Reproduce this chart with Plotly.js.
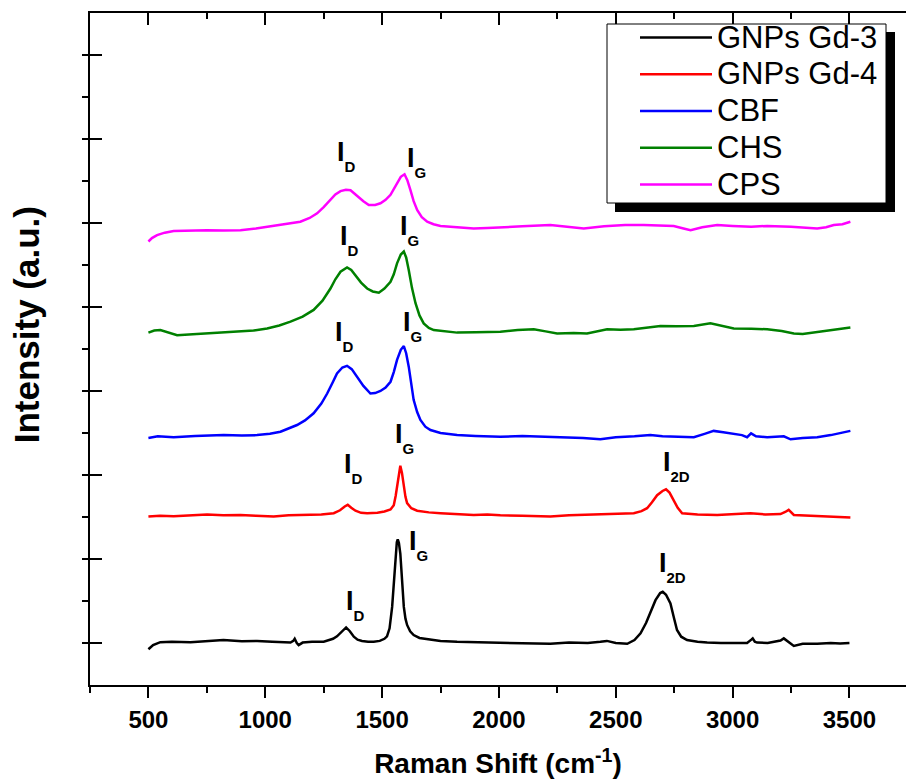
<!DOCTYPE html>
<html>
<head>
<meta charset="utf-8">
<script src="https://cdn.plot.ly/plotly-3.0.1.min.js"></script>
<style>html,body{margin:0;padding:0;background:#fff;overflow:hidden}#chart{width:906px;height:782px}</style>
</head>
<body>
<div id="chart"></div>
<script>
// ---- data (Raman shift in cm^-1, intensity in arbitrary offset units) ----
var seriesNames = ["GNPs Gd-3", "GNPs Gd-4", "CBF", "CHS", "CPS"];
var seriesColors = ["#000000", "#ff0000", "#0000ff", "#008000", "#ff00ff"];

var gd3X = [500,520,551,600,680,750,821,900,965,1030,1080,1108,1120,1126,1135,1143,1160,1200,1250,1290,1307,1325,1346,1362,1379,1395,1414,1440,1464,1490,1510,1521,1532,1543,1550,1557,1563,1567,1572,1578,1586,1593,1600,1607,1620,1635,1660,1693,1750,1821,1900,1950,2006,2100,2220,2300,2380,2434,2462,2500,2549,2580,2606,2630,2648,2670,2690,2701,2715,2734,2748,2762,2780,2805,2850,2891,2950,3005,3062,3080,3086,3095,3105,3150,3176,3205,3219,3235,3262,3300,3362,3420,3460,3500];
var gd3Y = [0.85,0.95,1.02,1.03,1.02,1.05,1.07,1.04,1.05,1.03,1.02,1.01,1.05,1.10,1.00,0.95,1.01,1.03,1.03,1.10,1.16,1.26,1.37,1.28,1.15,1.08,1.05,1.03,1.03,1.05,1.10,1.16,1.35,1.86,2.45,3.13,3.40,3.47,3.38,3.13,2.50,1.86,1.58,1.43,1.28,1.19,1.12,1.09,1.05,1.03,1.02,1.03,1.01,1.00,0.98,1.01,1.00,1.03,1.05,1.00,0.98,1.07,1.23,1.48,1.71,2.02,2.19,2.22,2.15,1.94,1.62,1.31,1.15,1.07,1.03,1.01,1.00,1.00,1.00,1.08,1.11,1.03,1.01,1.00,1.03,1.06,1.11,1.05,0.93,0.98,0.98,1.00,0.99,1.00];

var gd4X = [500,550,608,680,751,820,894,960,1036,1100,1179,1240,1293,1320,1340,1353,1368,1386,1410,1436,1480,1510,1536,1550,1558,1564,1571,1578,1585,1593,1600,1607,1625,1650,1700,1750,1820,1892,1950,2006,2100,2220,2300,2380,2434,2500,2577,2610,2634,2655,2677,2700,2715,2730,2748,2765,2784,2850,2934,3000,3076,3140,3205,3225,3240,3262,3330,3420,3504];
var gd4Y = [4.01,4.03,4.02,4.04,4.06,4.04,4.05,4.03,4.01,4.04,4.05,4.06,4.09,4.16,4.25,4.29,4.22,4.15,4.10,4.09,4.10,4.13,4.18,4.28,4.50,4.72,5.05,5.22,5.05,4.72,4.48,4.33,4.21,4.15,4.11,4.09,4.07,4.05,4.06,4.04,4.03,4.01,4.04,4.05,4.07,4.07,4.09,4.14,4.21,4.35,4.52,4.62,4.66,4.58,4.40,4.22,4.09,4.06,4.05,4.07,4.09,4.06,4.07,4.12,4.17,4.05,4.03,4.01,3.99];

var cbfX = [500,540,608,700,822,900,965,1020,1065,1100,1136,1170,1207,1240,1265,1290,1307,1330,1350,1370,1393,1420,1450,1470,1493,1515,1536,1550,1564,1580,1593,1603,1614,1625,1635,1650,1664,1685,1707,1750,1821,1900,2006,2100,2200,2292,2360,2434,2500,2580,2648,2700,2780,2834,2880,2919,2960,3005,3040,3062,3079,3100,3148,3219,3248,3300,3362,3420,3470,3504];
var cbfY = [5.88,5.92,5.90,5.93,5.95,5.94,5.95,5.98,6.03,6.10,6.19,6.30,6.47,6.70,6.94,7.22,7.42,7.56,7.60,7.52,7.34,7.12,6.94,6.95,7.00,7.08,7.22,7.45,7.74,7.98,8.07,7.90,7.58,7.15,6.79,6.50,6.31,6.15,6.07,6.00,5.95,5.93,5.91,5.93,5.91,5.90,5.88,5.85,5.90,5.92,5.95,5.92,5.90,5.90,5.98,6.05,6.02,5.99,5.95,5.90,5.99,5.92,5.90,5.92,5.85,5.88,5.90,5.95,6.00,6.05];

var chsX = [500,525,551,580,623,690,751,820,894,950,1008,1060,1108,1160,1207,1245,1279,1300,1322,1350,1368,1386,1410,1436,1460,1486,1510,1536,1550,1564,1580,1593,1603,1614,1628,1643,1660,1678,1700,1721,1780,1821,1900,2006,2080,2149,2200,2249,2320,2377,2463,2520,2577,2640,2691,2760,2834,2905,2950,3005,3080,3148,3210,3262,3300,3362,3430,3504];
var chsY = [8.39,8.44,8.45,8.40,8.33,8.35,8.37,8.39,8.41,8.44,8.49,8.56,8.65,8.77,8.93,9.15,9.44,9.66,9.84,9.94,9.88,9.76,9.58,9.44,9.37,9.34,9.44,9.60,9.78,10.04,10.25,10.32,10.18,9.88,9.45,9.09,8.80,8.61,8.50,8.45,8.41,8.39,8.40,8.41,8.45,8.47,8.42,8.37,8.38,8.37,8.47,8.46,8.47,8.51,8.55,8.54,8.55,8.61,8.56,8.49,8.48,8.47,8.43,8.37,8.36,8.41,8.45,8.51];

var cpsX = [500,515,537,570,608,680,751,820,894,960,1036,1100,1150,1190,1222,1250,1279,1300,1322,1345,1365,1393,1420,1443,1470,1493,1515,1536,1550,1564,1580,1596,1608,1621,1635,1650,1670,1693,1720,1750,1820,1892,1950,2006,2100,2220,2300,2363,2450,2540,2620,2700,2748,2790,2820,2870,2934,3000,3080,3148,3250,3362,3400,3433,3470,3504];
var cpsY = [10.56,10.64,10.71,10.77,10.81,10.82,10.83,10.82,10.83,10.87,10.93,10.98,11.03,11.12,11.23,11.38,11.55,11.68,11.76,11.79,11.78,11.64,11.52,11.43,11.43,11.47,11.55,11.67,11.80,11.94,12.10,12.16,12.02,11.79,11.52,11.31,11.14,11.03,10.97,10.93,10.90,10.87,10.88,10.89,10.92,10.95,10.91,10.87,10.92,10.95,10.95,10.94,10.93,10.87,10.83,10.90,10.95,10.93,10.91,10.93,10.91,10.87,10.90,10.95,10.97,11.03];

var xTickVals = [500,1000,1500,2000,2500,3000,3500];
var xTickText = ["500","1000","1500","2000","2500","3000","3500"];

// peak labels: text, x, y (data units)
var peakText = ["I_D","I_G","I_D","I_G","I_D","I_G","I_D","I_G","I_2D","I_D","I_G","I_2D"];
var peakX = [1300,1596,1313,1566,1292,1583,1330,1548,2695,1335,1608,2678];
var peakY = [12.10,11.95,10.10,10.33,7.81,8.05,4.67,5.38,4.71,1.40,2.83,2.31];

// ---- build ----
var FONT = "Liberation Sans, Arial, sans-serif";
var xs = [gd3X, gd4X, cbfX, chsX, cpsX];
var ys = [gd3Y, gd4Y, cbfY, chsY, cpsY];
var traces = [];
for (var i = 0; i < seriesNames.length; i++) {
  traces.push({
    type: "scatter", mode: "lines",
    name: '<span style="font-size:31px">' + seriesNames[i] + '</span>',
    x: xs[i], y: ys[i],
    line: {color: seriesColors[i], width: 2.5}
  });
}
traces.push({type: "scatter", x: [], y: [], xaxis: "x2", showlegend: false, hoverinfo: "skip"});

var L = 90, R = 0, T = 13, B = 97, W = 906, H = 782;
function px(p) { return (p - L) / (W - L - R); }
function py(p) { return (H - B - p) / (H - T - B); }

var annotations = peakText.map(function (t, k) {
  var parts = t.split("_");
  return {
    xref: "x", yref: "y", x: peakX[k], y: peakY[k],
    xanchor: "left", yanchor: "bottom", showarrow: false,
    text: '<sup><sup><span style="font-size:27px">' + parts[0] + '</span></sup></sup>' + parts[1],
    font: {family: FONT, size: 15, color: "#000", weight: "bold"}
  };
});

var shapes = [
  {type: "rect", xref: "paper", yref: "paper", x0: px(615), x1: px(895), y0: py(32), y1: py(212),
   fillcolor: "#000", line: {width: 0}, layer: "above"},
  {type: "rect", xref: "paper", yref: "paper", x0: px(607), x1: px(886), y0: py(24), y1: py(203),
   fillcolor: "#fff", line: {color: "#000", width: 1}, layer: "above"}
];

// leading padding (kept by a zero-width char) shifts the rotated title upward like the reference
var PAD = "\u200b\u00a0\u00a0\u00a0\u00a0\u00a0";

var layout = {
  width: W, height: H,
  margin: {l: L, r: R, t: T, b: B},
  paper_bgcolor: "#fff", plot_bgcolor: "#fff",
  showlegend: true,
  legend: {
    x: px(635), y: py(14), xanchor: "left", yanchor: "top",
    bgcolor: "rgba(0,0,0,0)", borderwidth: 0,
    font: {family: FONT, size: 26, color: "#000"},
    itemwidth: 72, traceorder: "normal"
  },
  xaxis: {
    range: [250, 3742], showgrid: false, zeroline: false,
    showline: true, linecolor: "#000", linewidth: 2,
    tickmode: "array", tickvals: xTickVals, ticktext: xTickText,
    ticks: "outside", ticklen: 11, tickwidth: 2, tickcolor: "#000",
    minor: {tickmode: "linear", tick0: 250, dtick: 250, ticks: "outside", ticklen: 6, tickwidth: 2, tickcolor: "#000"},
    tickfont: {family: FONT, size: 24, color: "#000", weight: "bold"},
    ticklabelstandoff: 1,
    title: {text: "Raman Shift (cm<sup>-1</sup>)", font: {family: FONT, size: 28, color: "#000", weight: "bold"}, standoff: 22}
  },
  xaxis2: {
    overlaying: "x", matches: "x", side: "top", anchor: "y",
    showgrid: false, zeroline: false, showticklabels: false,
    showline: true, linecolor: "#000", linewidth: 2,
    tickmode: "array", tickvals: xTickVals,
    ticks: "inside", ticklen: 12, tickwidth: 2, tickcolor: "#000",
    minor: {tickmode: "linear", tick0: 250, dtick: 250, ticks: "inside", ticklen: 6, tickwidth: 2, tickcolor: "#000"}
  },
  yaxis: {
    range: [0, 16], showgrid: false, zeroline: false,
    showline: true, linecolor: "#000", linewidth: 2,
    showticklabels: false,
    tickmode: "linear", tick0: 1, dtick: 2,
    ticks: "inside", ticklen: 12, tickwidth: 2, tickcolor: "#000",
    minor: {tickmode: "linear", tick0: 0, dtick: 1, ticks: "outside", ticklen: 6, tickwidth: 2, tickcolor: "#000"},
    title: {text: PAD + "Intensity (a.u.)", font: {family: FONT, size: 35, color: "#000", weight: "bold"}, standoff: 38}
  },
  annotations: annotations,
  shapes: shapes
};

Plotly.newPlot("chart", traces, layout, {displayModeBar: false, staticPlot: true});
</script>
</body>
</html>
